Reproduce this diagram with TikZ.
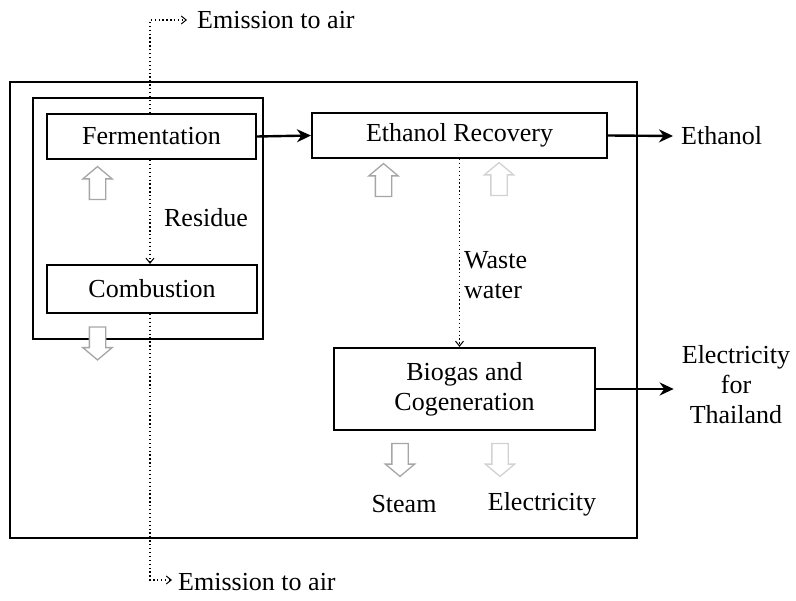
\documentclass[tikz,border=0pt]{standalone}
\usepackage{fontspec}
\setmainfont{Liberation Serif}
\usetikzlibrary{arrows.meta,shapes.arrows}
\begin{document}
\begin{tikzpicture}[x=1pt,y=-1pt,
  every node/.style={font=\fontsize{26}{30}\selectfont},
  procbox/.style={draw,line width=2.2pt,inner sep=0pt,align=center},
  frame/.style={line width=2.2pt},
  flow/.style={line width=2.4pt,-{Stealth[length=14pt,width=13pt]}},
  emis/.style={line width=1.3pt,dash pattern=on 1.3pt off 2.6pt},
  emisarrow/.style={emis,-{Straight Barb[length=5pt,width=8pt,line width=1pt]}},
  label/.style={inner sep=0pt},
  blockarrow/.style={single arrow,draw=#1,fill=white,line width=1.3pt,
    minimum height=33pt,inner sep=7.5pt,single arrow head extend=6.5pt,
    single arrow tip angle=100},
  blockarrow/.default=gray!70]
\useasboundingbox (0,0) rectangle (796,601);

% system boundaries
\draw[frame] (10,82) rectangle (637,538);
\draw[frame] (33,98) rectangle (263,339);

% process units
\node[procbox,minimum width=209pt,minimum height=45pt] (ferm) at (151.5,136.5) {Fermentation};
\node[procbox,minimum width=210pt,minimum height=48pt] (comb) at (152,289) {Combustion};
\node[procbox,minimum width=295pt,minimum height=45pt] (er) at (459.5,135.5) {Ethanol Recovery};
\node[procbox,minimum width=261pt,minimum height=82pt] (bio) at (464.5,389) {Biogas and\\Cogeneration};

% outputs
\node[label,anchor=west] (eth) at (681,136) {Ethanol};
\node[label,align=center] (elec) at (736,385) {Electricity\\for\\Thailand};
\node[label,anchor=west] (emtop) at (197,20) {Emission to air};
\node[label,anchor=west] (embot) at (178,582) {Emission to air};

% flow labels
\node[label] (res) at (206,218) {Residue};
\node[label,anchor=north west,align=left] (ww) at (464,251) {Waste\\water};
\node[label] (steam) at (404,504) {Steam};
\node[label] (elout) at (542,504) {Electricity};

% main flows
\draw[flow] (ferm.east) -- (er.west);
\draw[flow] (er.east) -- ([xshift=-8pt]eth.west);
\draw[flow] (bio.east) -- ([xshift=-8pt]elec.west |- bio.east);

% dotted streams
\coordinate (vtop) at (150,20);
\coordinate (vbot) at (150,580);
\draw[emisarrow] (ferm.north -| vtop) -- (vtop) -- ([xshift=-10pt]emtop.west);
\draw[emisarrow] (comb.south -| vbot) -- (vbot) -- ([xshift=-6pt]embot.west |- vbot);
\draw[emisarrow] (ferm.south -| vtop) -- (comb.north -| vtop);
\draw[emisarrow] (er.south) -- (er.south |- bio.north);

% energy inputs and outputs
\node[blockarrow,rotate=90] (in1) at (97.5,186.5) {};
\node[blockarrow,rotate=90] (in2) at (383.5,183.5) {};
\node[blockarrow=gray!35,rotate=90] (in3) at (499,182.5) {};
\node[blockarrow,rotate=-90] (out1) at (97.5,340) {};
\node[blockarrow,rotate=-90] (out2) at (400,456.5) {};
\node[blockarrow=gray!35,rotate=-90] (out3) at (500,456.5) {};
\end{tikzpicture}
\end{document}
